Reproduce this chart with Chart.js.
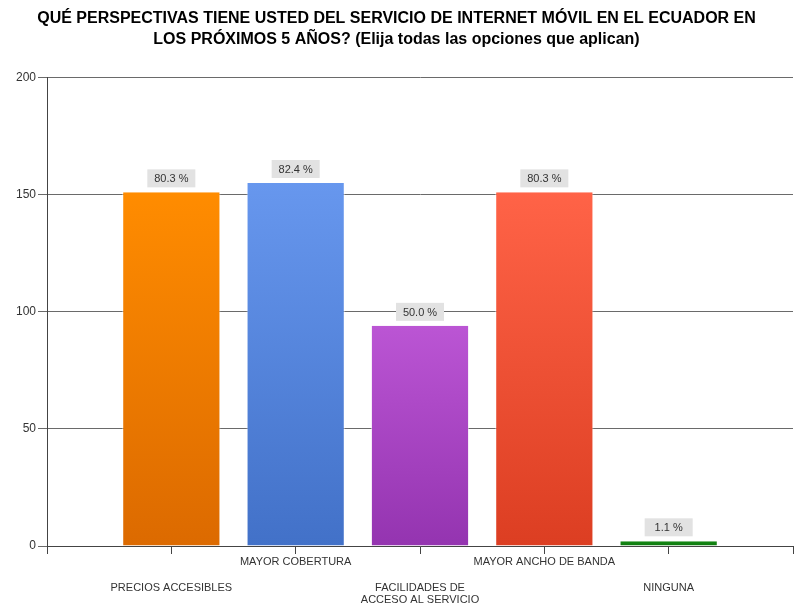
<!DOCTYPE html>
<html>
<head>
<meta charset="utf-8">
<script src="https://cdn.jsdelivr.net/npm/chart.js@4.4.1/dist/chart.umd.min.js"></script>
<style>
  html, body { margin: 0; padding: 0; background: #fff; }
  #wrap { width: 795px; height: 608px; }
</style>
</head>
<body>
<div id="wrap"><canvas id="barChart" width="795" height="608"></canvas></div>
<script>
// data
const categories = ["PRECIOS ACCESIBLES", "MAYOR COBERTURA", "FACILIDADES DE|ACCESO AL SERVICIO", "MAYOR ANCHO DE BANDA", "NINGUNA"];
const counts = [151, 155, 94, 151, 2];
const percents = ["80.3 %", "82.4 %", "50.0 %", "80.3 %", "1.1 %"];
const yTicks = [0, 50, 100, 150, 200];

// top / bottom colours of each bar gradient
const topColors = ["#ff8c00", "#6797ee", "#bb55d4", "#ff6347", "#158815"];
const bottomColors = ["#dc6a00", "#4271c8", "#9434b0", "#dc3e22", "#0c780c"];

function barGradient(ctx) {
  const chart = ctx.chart;
  const i = ctx.dataIndex;
  if (!chart.chartArea || i === undefined) return topColors[i || 0];
  const y = chart.scales.y;
  const top = y.getPixelForValue(counts[i]);
  const bottom = y.getPixelForValue(0);
  const g = chart.ctx.createLinearGradient(0, top, 0, Math.max(bottom, top + 1));
  g.addColorStop(0, topColors[i]);
  g.addColorStop(1, bottomColors[i]);
  return g;
}

// grey boxes with the percentage above each bar
const valueBoxes = {
  id: "valueBoxes",
  afterDatasetsDraw(chart) {
    const ctx = chart.ctx;
    const meta = chart.getDatasetMeta(0);
    ctx.save();
    ctx.font = "11px 'Liberation Sans', Arial, sans-serif";
    ctx.textAlign = "center";
    ctx.textBaseline = "middle";
    meta.data.forEach((bar, i) => {
      const w = 48, h = 18;
      const bx = bar.x - w / 2;
      const by = bar.y - 5 - h;
      ctx.fillStyle = "#e2e2e2";
      ctx.fillRect(bx, by, w, h);
      ctx.fillStyle = "#333";
      ctx.fillText(percents[i], bar.x, by + h / 2 + 1);
    });
    ctx.restore();
  }
};

function tickLabel(value) {
  const idx = value - 1;
  if (idx < 0 || idx >= categories.length) return "";
  const lines = categories[idx].split("|");
  // alternate rows like the original
  if (idx % 2 === 0) return ["", ""].concat(lines);
  return lines;
}

new Chart(document.getElementById("barChart").getContext("2d"), {
  type: "bar",
  data: {
    datasets: [{
      data: counts.map((v, i) => ({ x: i + 1, y: v })),
      backgroundColor: barGradient,
      borderColor: "rgba(255,255,255,0.55)",
      borderWidth: { left: 1, right: 1, top: 0, bottom: 0 },
      categoryPercentage: 1,
      barPercentage: 0.79
    }]
  },
  options: {
    responsive: false,
    animation: false,
    layout: { padding: { top: 0, right: 2, left: 0, bottom: 0 } },
    plugins: {
      legend: { display: false },
      tooltip: { enabled: false },
      title: {
        display: true,
        text: ["QUÉ PERSPECTIVAS TIENE USTED DEL SERVICIO DE INTERNET MÓVIL EN EL ECUADOR EN",
               "LOS PRÓXIMOS 5 AÑOS? (Elija todas las opciones que aplican)"],
        color: "#000",
        font: { family: "'Liberation Sans', Arial, sans-serif", size: 16, weight: "bold", lineHeight: 1.3 },
        padding: { top: 8, bottom: 28 }
      }
    },
    scales: {
      x: {
        type: "linear",
        min: 0,
        max: 6,
        offset: false,
        afterFit(scale) { scale.height = 62; },
        border: { color: "#444", width: 1 },
        grid: { offset: false, drawOnChartArea: false, drawTicks: true, tickLength: 8, color: "#444" },
        ticks: {
          stepSize: 1,
          autoSkip: false,
          maxRotation: 0,
          padding: 2,
          color: "#333",
          font: { family: "'Liberation Sans', Arial, sans-serif", size: 11, lineHeight: 1.15 },
          callback: tickLabel
        }
      },
      y: {
        min: 0,
        max: 200,
        afterFit(scale) { scale.width = 47; },
        afterBuildTicks(scale) { scale.ticks = yTicks.map(v => ({ value: v })); },
        border: { color: "#444", width: 1 },
        grid: { color: "#6a6a6a", tickLength: 9, lineWidth: 1 },
        ticks: {
          padding: 2,
          color: "#333",
          font: { family: "'Liberation Sans', Arial, sans-serif", size: 12 }
        }
      }
    }
  },
  plugins: [valueBoxes]
});
</script>
</body>
</html>
